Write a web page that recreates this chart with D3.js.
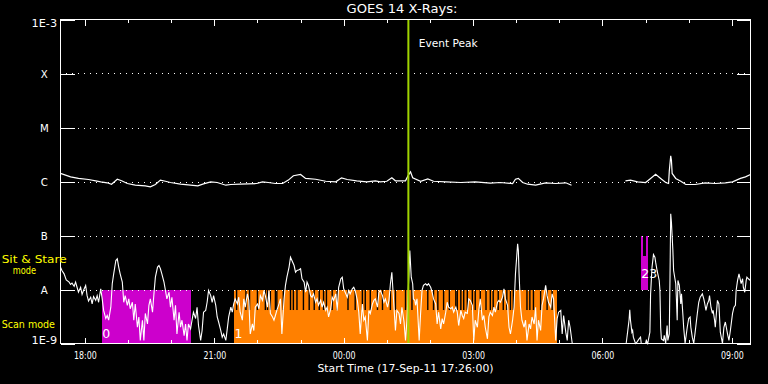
<!DOCTYPE html>
<html><head><meta charset="utf-8">
<script src="https://cdn.jsdelivr.net/npm/d3@7"></script>
<style>html,body{margin:0;background:#000;} svg{display:block;}</style>
</head><body><svg id="c" width="768" height="384"></svg>
<script>
// ---------------- DATA ----------------
const titleText = "GOES 14 X-Rays:";
const xLabelText = "Start Time (17-Sep-11 17:26:00)";
const startTime = "2011-09-17T17:26:00Z";
const durationMin = 960;
const tickValuesY = [1e-9, 1e-8, 1e-7, 1e-6, 1e-5, 1e-4, 1e-3];
const tickLabelsY = ["1E-9", "A", "B", "C", "M", "X", "1E-3"];
const gridValues = [1e-8, 1e-7, 1e-6, 1e-5, 1e-4];
const eventPeakMin = 484;
const eventPeakText = "Event Peak";

// GOES long channel (1-8 A): [minutes after start, flux W/m^2]
const longChannel = [
 [0,1.41e-6],[7,1.31e-6],[14,1.22e-6],[25,1.14e-6],[39,1.09e-6],[49,1.03e-6],[56,9.87e-7],[65,9.46e-7],
 [71,8.91e-7],[79,1.10e-6],[85,1.03e-6],[93,9.18e-7],[104,8.54e-7],[118,8.32e-7],[125,7.98e-7],[132,8.80e-7],
 [139,1.06e-6],[146,1.01e-6],[153,9.58e-7],[167,8.91e-7],[181,8.54e-7],[191,8.32e-7],[199,9.06e-7],[209,9.87e-7],
 [218,9.58e-7],[230,8.54e-7],[237,8.80e-7],[250,8.91e-7],[273,9.18e-7],[281,9.87e-7],[289,9.58e-7],[299,9.18e-7],
 [309,9.18e-7],[317,1.06e-6],[324,1.28e-6],[334,1.35e-6],[341,1.14e-6],[355,1.10e-6],[369,1.01e-6],[383,9.87e-7],
 [391,1.17e-6],[399,1.09e-6],[412,1.03e-6],[426,9.87e-7],[438,1.03e-6],[445,9.87e-7],[454,1.01e-6],[461,1.17e-6],
 [466,1.03e-6],[480,1.03e-6],[484,1.31e-6],[487,1.51e-6],[490,1.17e-6],[501,1.01e-6],[511,1.12e-6],[519,1.01e-6],
 [536,9.87e-7],[557,9.58e-7],[577,9.87e-7],[598,9.31e-7],[612,9.58e-7],[629,9.18e-7],[633,1.10e-6],[637,1.14e-6],
 [643,9.58e-7],[650,8.91e-7],[661,8.54e-7],[675,9.46e-7],[689,9.18e-7],[703,9.46e-7],[711,8.54e-7],[750,null],
 [786,1.03e-6],[793,1.06e-6],[803,9.87e-7],[814,9.58e-7],[821,1.14e-6],[828,1.36e-6],[835,1.14e-6],[842,9.58e-7],
 [846,9.18e-7],[847,1.55e-6],[849,2.99e-6],[850,2.48e-6],[851,1.41e-6],[856,1.14e-6],[863,1.01e-6],[870,8.80e-7],
 [883,8.80e-7],[897,9.46e-7],[911,9.18e-7],[925,9.46e-7],[935,9.87e-7],[946,1.14e-6],[953,1.22e-6],[960,1.35e-6]
];

// GOES short channel (0.5-4 A): [minutes after start, flux W/m^2]
const shortChannel = [
 [0,2.6e-8],[2,2.25e-8],[5,1.95e-8],[8,1.5e-8],[12,1.37e-8],[14,1.24e-8],[16,1.31e-8],[19,1.15e-8],[21,1.37e-8],
 [23,1.1e-8],[25,8.9e-9],[28,1.1e-8],[30,8.1e-9],[32,9.6e-9],[35,1.19e-8],[37,7.7e-9],[39,6.1e-9],[42,7.2e-9],
 [44,5.4e-9],[46,7.4e-9],[49,6.3e-9],[51,7.7e-9],[53,5.8e-9],[56,1.03e-8],[58,6.7e-9],[60,4.1e-9],[63,2.9e-9],
 [65,3.3e-9],[67,2.7e-9],[70,4.7e-9],[72,1.28e-8],[74,1.95e-8],[77,3.44e-8],[79,3.7e-8],[81,2.6e-8],[83,1.95e-8],
 [86,1.37e-8],[88,5.8e-9],[90,7.7e-9],[93,5.1e-9],[95,6.7e-9],[97,4.4e-9],[100,5.8e-9],[102,2.7e-9],[104,5.4e-9],
 [107,2.0e-9],[109,3.1e-9],[111,1.14e-9],[114,2.7e-9],[116,1.14e-9],[118,3.6e-9],[121,2.3e-9],[123,5.1e-9],
 [125,6.7e-9],[128,3.8e-9],[130,8.3e-9],[132,1.69e-8],[135,2.6e-8],[137,2.78e-8],[139,2.42e-8],[141,1.95e-8],
 [144,1.37e-8],[146,9.6e-9],[148,6.7e-9],[151,8.9e-9],[153,4.7e-9],[155,7.2e-9],[158,2.7e-9],[160,5.1e-9],
 [162,1.5e-9],[165,3.8e-9],[167,2.0e-9],[169,2.7e-9],[172,1.4e-9],[174,2.3e-9],[176,1.14e-9],[178,2.3e-9],
 [181,1.87e-9],[183,2.7e-9],[185,3.8e-9],[188,2.9e-9],[190,4.7e-9],[192,2.15e-9],[195,1.14e-9],[197,1.74e-9],
 [199,3.8e-9],[202,4.1e-9],[204,5.8e-9],[206,9.6e-9],[209,7.7e-9],[211,5.8e-9],[213,7.7e-9],[216,5.1e-9],
 [218,3.1e-9],[220,2.5e-9],[223,1.74e-9],[225,1.31e-9],[227,1.5e-9],[230,1.14e-9],[232,1.87e-9],[234,3.1e-9],
 [237,4.7e-9],[239,3.8e-9],[241,5.4e-9],[243,6.7e-9],[246,5.4e-9],[248,7.2e-9],[250,3.8e-9],[253,2.7e-9],
 [255,6.7e-9],[257,4.7e-9],[260,8.3e-9],[262,6.3e-9],[264,1.5e-9],[267,2.3e-9],[269,1.74e-9],[271,4.7e-9],
 [274,5.4e-9],[276,4.4e-9],[278,7.7e-9],[281,6.3e-9],[283,9.6e-9],[285,7.7e-9],[288,4.7e-9],[290,9.6e-9],
 [292,3.6e-9],[295,3.1e-9],[297,2.7e-9],[299,3.3e-9],[301,4.1e-9],[304,5.4e-9],[306,6.7e-9],[308,1.5e-9],
 [311,6.7e-9],[313,1.19e-8],[315,1.69e-8],[318,2.6e-8],[320,3.97e-8],[322,3.44e-8],[325,2.78e-8],[327,2.09e-8],
 [329,2.25e-8],[332,2.32e-8],[334,2.42e-8],[336,1.58e-8],[339,1.37e-8],[341,8.9e-9],[343,1.37e-8],[345,1.19e-8],
 [348,7.7e-9],[350,7.2e-9],[352,8.3e-9],[355,5.8e-9],[357,6.7e-9],[359,5.1e-9],[362,6.3e-9],[364,4.7e-9],
 [366,5.8e-9],[369,4.1e-9],[371,4.7e-9],[373,3.1e-9],[376,4.4e-9],[378,7.2e-9],[380,6.3e-9],[383,8.3e-9],
 [385,4.1e-9],[387,1.1e-8],[390,1.58e-8],[392,1.69e-8],[394,1.03e-8],[397,8.3e-9],[399,7.2e-9],[401,9.6e-9],
 [403,8.3e-9],[406,1.03e-8],[408,1.1e-8],[410,9.6e-9],[413,6.3e-9],[415,3.8e-9],[417,1.5e-9],[420,5.4e-9],
 [422,2.7e-9],[424,3.1e-9],[427,1.14e-9],[429,4.1e-9],[431,3.6e-9],[434,5.4e-9],[436,6.3e-9],[438,6.7e-9],
 [441,4.7e-9],[443,8.9e-9],[445,9.6e-9],[448,7.7e-9],[450,5.8e-9],[452,6.7e-9],[455,4.7e-9],[457,6.3e-9],
 [459,1.28e-8],[461,2.09e-8],[464,4.7e-9],[466,1.74e-9],[468,4.1e-9],[471,3.6e-9],[473,2.3e-9],[475,4.7e-9],
 [478,2.5e-9],[480,1.14e-9],[482,2.7e-9],[485,2.25e-8],[486,5.27e-8],[488,1.69e-8],[490,1.28e-8],[491,6.7e-9],
 [493,6.3e-9],[494,5.1e-9],[496,6.7e-9],[499,1.14e-9],[501,3.6e-9],[503,9.6e-9],[505,1.19e-8],[508,1.28e-8],
 [510,1.19e-8],[512,1.28e-8],[515,1.1e-8],[517,8.9e-9],[519,6.7e-9],[522,5.4e-9],[524,2.3e-9],[526,3.8e-9],
 [529,1.87e-9],[531,2.9e-9],[533,2.3e-9],[536,3.8e-9],[538,5.8e-9],[540,4.7e-9],[543,4.4e-9],[545,4.7e-9],
 [547,3.8e-9],[550,4.7e-9],[552,3.8e-9],[554,2.15e-9],[557,4.1e-9],[559,3.3e-9],[561,2.9e-9],[563,3.8e-9],
 [566,3.6e-9],[568,6.7e-9],[570,6.3e-9],[573,5.1e-9],[575,1.14e-9],[577,2.7e-9],[580,2.0e-9],[582,4.1e-9],
 [584,6.7e-9],[587,2.7e-9],[589,3.3e-9],[591,2.0e-9],[594,1.22e-9],[596,3.1e-9],[598,3.8e-9],[601,3.3e-9],
 [603,4.7e-9],[605,3.8e-9],[608,5.8e-9],[610,6.3e-9],[612,5.8e-9],[615,7.2e-9],[617,1.03e-8],[619,6.7e-9],
 [622,5.1e-9],[624,2.0e-9],[626,1.5e-9],[629,2.7e-9],[631,4.7e-9],[633,1.95e-8],[636,7.0e-8],[637,5.27e-8],
 [638,1.95e-8],[640,4.7e-9],[642,2.7e-9],[645,2.0e-9],[647,2.7e-9],[649,1.14e-9],[652,2.3e-9],[654,1.87e-9],
 [656,3.1e-9],[659,2.3e-9],[661,4.7e-9],[663,1.14e-9],[665,2.7e-9],[668,1.74e-9],[670,5.1e-9],[672,6.7e-9],
 [675,1.19e-8],[677,7.7e-9],[679,5.8e-9],[682,4.7e-9],[684,8.3e-9],[686,6.7e-9],[689,1.14e-9],[691,2.9e-9],
 [693,3.8e-9],[696,4.1e-9],[698,1.5e-9],[700,3.3e-9],[703,1.62e-9],[705,1.14e-9],[707,2.7e-9],[709,2.0e-9],
 [712,1.0e-9],[750,null],
 [787,1.0e-9],[789,1.62e-9],[791,2.7e-9],[792,4.2e-9],[793,2.7e-9],[795,1.62e-9],[796,1.74e-9],[797,1.31e-9],
 [800,1.0e-9],[802,1.06e-9],[805,1.22e-9],[807,1.31e-9],[808,1.0e-9],[814,1.0e-9],[815,1.14e-9],[817,1.0e-9],
 [820,1.62e-9],[821,8.3e-9],[823,2.6e-8],[825,4.43e-8],[827,3.97e-8],[828,3.21e-8],[830,2.25e-8],[833,1.47e-8],
 [834,9.6e-9],[835,2.0e-9],[836,1.22e-9],[839,1.14e-9],[840,1.41e-9],[842,1.0e-9],[844,2.15e-9],[845,1.14e-9],
 [847,1.51e-9],[848,1.69e-8],[849,2.52e-7],[850,1.76e-7],[852,5.27e-8],[853,2.25e-8],[856,1.28e-8],[857,6.3e-9],
 [858,2.7e-9],[859,1.47e-8],[861,1.19e-8],[863,5.4e-9],[864,8.3e-9],[866,3.3e-9],[867,2.0e-9],[869,1.0e-9],
 [872,2.0e-9],[874,2.9e-9],[876,3.1e-9],[877,2.0e-9],[879,1.31e-9],[881,1.0e-9],[883,1.62e-9],[886,3.6e-9],
 [888,5.8e-9],[890,7.2e-9],[893,8.3e-9],[895,6.7e-9],[896,5.8e-9],[898,4.1e-9],[900,5.4e-9],[902,6.3e-9],
 [903,7.7e-9],[905,4.7e-9],[907,3.6e-9],[908,4.1e-9],[910,2.7e-9],[911,2.0e-9],[914,6.3e-9],[916,5.4e-9],
 [918,1.62e-9],[921,1.0e-9],[923,2.0e-9],[925,2.5e-9],[928,1.51e-9],[930,1.14e-9],[932,1.74e-9],[935,3.6e-9],
 [937,4.7e-9],[939,5.1e-9],[940,9.6e-9],[942,1.47e-8],[944,1.95e-8],[946,1.47e-8],[947,1.28e-8],[949,1.58e-8],
 [950,1.1e-8],[952,8.9e-9],[954,1.47e-8],[955,1.69e-8],[957,1.58e-8],[960,1.47e-8]
];

// Observation intervals (minutes after start)
const obsLabels = ["0", "1", "2", "3"];
const obsStart  = [58, 242, 808, 815];
const obsEnd    = [182, 691, 815, 817];
const obsMode   = ["scan", "scan", "sit", "sit"];
const obsKind   = ["a", "b", "a", "a"];
// mode bands (flux ranges) and their names
const modeBand = { scan: [1e-9, 1e-8], sit: [1e-8, 1e-7] };
const modeNames = { sit: ["Sit & Stare", "mode"], scan: ["Scan mode"] };
// gaps between exposures (minutes)
const scanGapTimes = [245,258,263,274,285,288,292,299,301,310,320,324,329,338,346,353,360,366,370,378,385,400,410,
  420,424,431,441,448,459,466,480,489,511,519,525,533,541,550,552,557,561,566,573,577,584,592,598,602,609,616,
  621,626,630,649,653,658,668,677,684];
const sitGaps = [[811, 815]];

// ---------------- DRAW ----------------
const svg = d3.select("#c");
svg.append("rect").attr("width", 768).attr("height", 384).attr("fill", "#000");
const FONT = "DejaVu Sans, sans-serif";
const kindColor = { a: "#cc00cc", b: "#ff8000" };

const t0 = new Date(startTime);
const tAt = m => new Date(t0.getTime() + m * 60000);
const x = d3.scaleUtc().domain([tAt(0), tAt(durationMin)]).range([60.5, 750.5]);
const y = d3.scaleLog().domain([1e-9, 1e-3]).range([343.5, 19.5]).clamp(true);

// observation bands
const obs = obsLabels.map((l, i) => ({ label: l, s: obsStart[i], e: obsEnd[i], mode: obsMode[i], kind: obsKind[i] }));
svg.append("g").selectAll("rect").data(obs).join("rect")
  .attr("x", d => x(tAt(d.s))).attr("width", d => x(tAt(d.e)) - x(tAt(d.s)))
  .attr("y", d => y(modeBand[d.mode][1])).attr("height", d => y(modeBand[d.mode][0]) - y(modeBand[d.mode][1]))
  .attr("fill", d => kindColor[d.kind]).attr("shape-rendering", "crispEdges");

// exposure gaps (black stripes in upper part of band)
function gapRect(sel, mode) {
  const top = y(modeBand[mode][1]), bot = y(modeBand[mode][0]);
  sel.attr("y", top).attr("height", 0.38 * (bot - top)).attr("fill", "#000");
}
svg.append("g").selectAll("rect").data(scanGapTimes).join("rect")
  .attr("x", d => x(tAt(d)) - 0.7).attr("width", 1.4).call(gapRect, "scan");
svg.append("g").selectAll("rect").data(sitGaps).join("rect")
  .attr("x", d => x(tAt(d[0]))).attr("width", d => x(tAt(d[1])) - x(tAt(d[0]))).call(gapRect, "sit")
  .attr("shape-rendering", "crispEdges");

// dotted grid
svg.append("g").selectAll("line").data(gridValues).join("line")
  .attr("x1", 60).attr("x2", 750).attr("y1", d => Math.round(y(d)) + 0.5).attr("y2", d => Math.round(y(d)) + 0.5)
  .attr("stroke", "#fff").attr("stroke-width", 1).attr("stroke-dasharray", "1,5");

// curves
const line = d3.line().defined(d => d[1] != null).x(d => x(tAt(d[0]))).y(d => y(d[1]));
svg.append("path").datum(shortChannel).attr("d", line).attr("fill", "none").attr("stroke", "#fff").attr("stroke-width", 1.1);
svg.append("path").datum(longChannel).attr("d", line).attr("fill", "none").attr("stroke", "#fff").attr("stroke-width", 1.2);

// observation labels (shifted right when they would collide with the previous one)
let prevEnd = -Infinity;
const labelSize = 12.5, labelAdv = 8;
obs.forEach(d => {
  let lx = x(tAt(d.s));
  if (lx < prevEnd) lx = prevEnd;
  prevEnd = lx + labelAdv * d.label.length;
  svg.append("text").attr("x", lx)
    .attr("y", d.mode === "scan" ? y(modeBand.scan[0]) - 5.5 : y(modeBand.sit[0]) - 12)
    .attr("fill", "#fff").attr("font-family", FONT).attr("font-size", labelSize).text(d.label);
});

// event peak line
const xe = x(tAt(eventPeakMin));
svg.append("line").attr("x1", xe).attr("x2", xe).attr("y1", y(1e-3)).attr("y2", y(1e-9))
  .attr("stroke", "#a0d400").attr("stroke-width", 2);
svg.append("text").attr("x", xe + 10.3).attr("y", 46.7).attr("fill", "#fff").attr("font-family", FONT)
  .attr("font-size", 10.8).attr("textLength", 59).attr("lengthAdjust", "spacingAndGlyphs").text(eventPeakText);

// axes
function styleAxis(g) {
  g.select(".domain").remove();
  g.selectAll("line").attr("stroke", "#fff").attr("shape-rendering", "crispEdges");
}
const yl = svg.append("g").attr("transform", "translate(60.5,0)")
  .call(d3.axisLeft(y).tickValues(tickValuesY).tickSize(-14).tickFormat((d, i) => tickLabelsY[i]))
  .call(styleAxis);
yl.selectAll("text").attr("fill", "#fff").attr("font-family", FONT).attr("font-size", 10.2)
  .attr("text-anchor", "middle").attr("x", -16.2)
  .attr("dy", (d, i) => i === 0 ? 0 : (i === tickValuesY.length - 1 ? 7.4 : 3.8))
  .each(function (d, i) { if (tickLabelsY[i].length > 2) d3.select(this).attr("textLength", 25.5).attr("lengthAdjust", "spacingAndGlyphs"); });
svg.append("g").attr("transform", "translate(750.5,0)")
  .call(d3.axisRight(y).tickValues(tickValuesY).tickSize(-14).tickFormat(""))
  .call(styleAxis);

const fmt = d3.utcFormat("%H:%M");
const xb = svg.append("g").attr("transform", "translate(0,343.5)")
  .call(d3.axisBottom(x).ticks(d3.utcHour.every(3)).tickSize(-6).tickFormat(fmt)).call(styleAxis);
xb.selectAll("text").attr("fill", "#fff").attr("font-family", FONT).attr("font-size", 10)
  .attr("y", 15.2).attr("dy", 0).attr("textLength", 22.7).attr("lengthAdjust", "spacingAndGlyphs");
svg.append("g").attr("transform", "translate(0,343.5)")
  .call(d3.axisBottom(x).ticks(d3.utcHour.every(1)).tickSize(-3.3).tickFormat("")).call(styleAxis);
svg.append("g").attr("transform", "translate(0,19.5)")
  .call(d3.axisTop(x).ticks(d3.utcHour.every(3)).tickSize(-6).tickFormat("")).call(styleAxis);
svg.append("g").attr("transform", "translate(0,19.5)")
  .call(d3.axisTop(x).ticks(d3.utcHour.every(1)).tickSize(-3.3).tickFormat("")).call(styleAxis);

// frame
svg.append("rect").attr("x", 60.5).attr("y", 19.5).attr("width", 690).attr("height", 324)
  .attr("fill", "none").attr("stroke", "#fff").attr("stroke-width", 1).attr("shape-rendering", "crispEdges");

// titles
svg.append("text").attr("x", 402).attr("y", 13.3).attr("text-anchor", "middle").attr("fill", "#fff")
  .attr("font-family", FONT).attr("font-size", 11.6).attr("textLength", 111).attr("lengthAdjust", "spacingAndGlyphs").text(titleText);
svg.append("text").attr("x", 405.5).attr("y", 371.7).attr("text-anchor", "middle").attr("fill", "#fff")
  .attr("font-family", FONT).attr("font-size", 10).attr("textLength", 176).attr("lengthAdjust", "spacingAndGlyphs").text(xLabelText);

// mode labels (yellow)
const yellow = "#ffff00";
svg.append("text").attr("x", 1.7).attr("y", 262.7).attr("fill", yellow).attr("font-family", FONT).attr("font-size", 10)
  .attr("textLength", 65).attr("lengthAdjust", "spacingAndGlyphs").text(modeNames.sit[0]);
svg.append("text").attr("x", 12.7).attr("y", 274.3).attr("fill", yellow).attr("font-family", FONT).attr("font-size", 10)
  .attr("textLength", 23.3).attr("lengthAdjust", "spacingAndGlyphs").text(modeNames.sit[1]);
svg.append("text").attr("x", 1.7).attr("y", 327.7).attr("fill", yellow).attr("font-family", FONT).attr("font-size", 10)
  .attr("textLength", 53.3).attr("lengthAdjust", "spacingAndGlyphs").text(modeNames.scan[0]);
</script></body></html>
